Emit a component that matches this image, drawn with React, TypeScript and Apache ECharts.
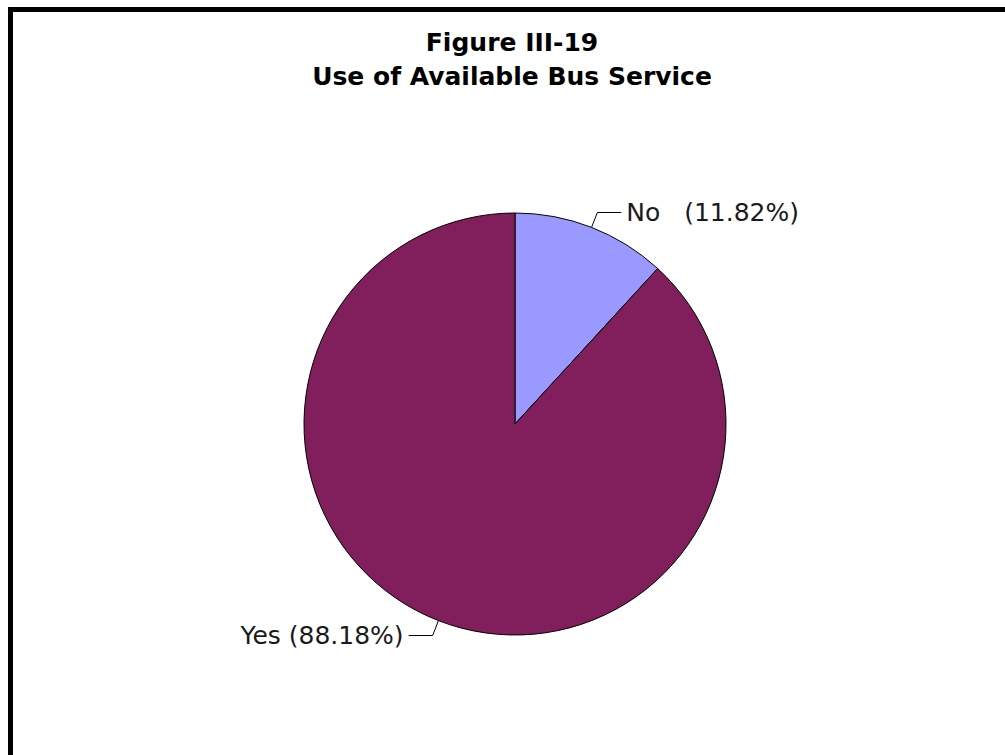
import React, { useEffect, useRef } from "react";
import * as echarts from "echarts";

const titleLines = ["Figure III-19", "Use of Available Bus Service"];
const categories = ["No", "Yes"];
const values = [11.82, 88.18];
const colors = ["#9999FF", "#801F5C"];
const labelGaps = ["   ", " "];

export default function App() {
  const ref = useRef<HTMLDivElement>(null);
  useEffect(() => {
    if (!ref.current) return;
    const chart = echarts.init(ref.current, null, { renderer: "svg" });
    chart.setOption({
      animation: false,
      backgroundColor: "#ffffff",
      title: {
        text: titleLines.join("\n"),
        left: 507,
        top: 20,
        textAlign: "center",
        textStyle: {
          fontFamily: "DejaVu Sans",
          fontWeight: "bold",
          fontSize: 25,
          lineHeight: 34,
          color: "#000",
        },
      },
      graphic: [
        {
          type: "rect",
          shape: { x: 10.5, y: 9.5, width: 1200, height: 1000 },
          style: { fill: "none", stroke: "#000", lineWidth: 5 },
          silent: true,
        },
      ],
      series: [
        {
          type: "pie",
          center: [515, 424],
          radius: 211,
          startAngle: 90,
          clockwise: true,
          data: categories.map((c, i) => ({
            name: c,
            value: values[i],
            itemStyle: { color: colors[i] },
          })),
          itemStyle: { borderColor: "#000", borderWidth: 1 },
          label: {
            show: true,
            position: "outside",
            fontFamily: "DejaVu Sans",
            fontSize: 25,
            color: "#1a1a1a",
            distanceToLabelLine: 5,
            formatter: (p: any) =>
              `${p.name}${labelGaps[p.dataIndex]}(${Number(p.value).toFixed(2)}%)`,
          },
          labelLine: {
            show: true,
            length: 16,
            length2: 24,
            lineStyle: { color: "#000", width: 1 },
          },
          emphasis: { disabled: true },
        },
      ],
    });
    return () => chart.dispose();
  }, []);
  return (
    <div
      ref={ref}
      style={{ position: "fixed", left: 0, top: 0, width: 1005, height: 755 }}
    />
  );
}
